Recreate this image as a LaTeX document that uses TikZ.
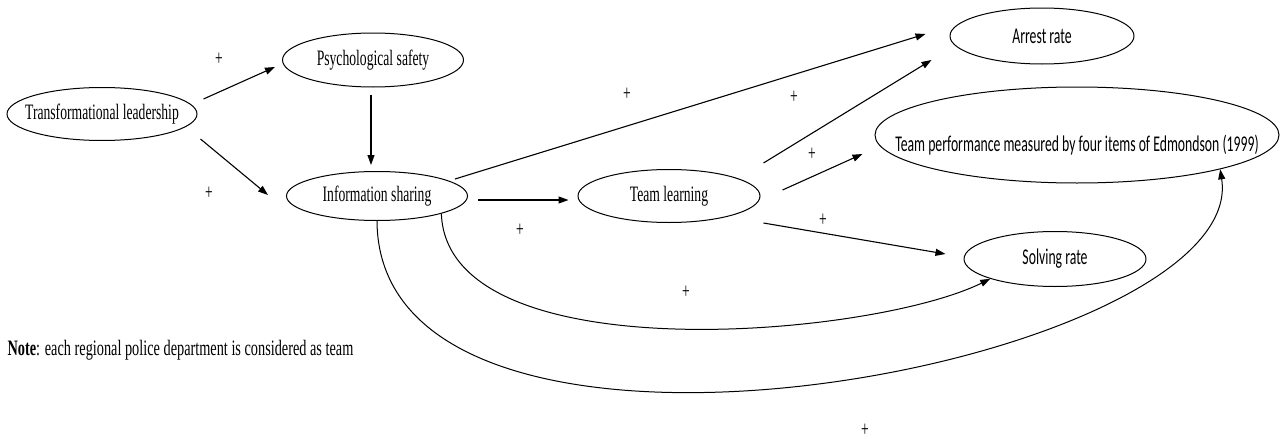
\documentclass[tikz,border=0pt]{standalone}
\usepackage{fontspec}
\setmainfont{Liberation Serif}[FakeStretch=0.62]
\newfontfamily\calfont{Carlito}[FakeStretch=0.61]
\usetikzlibrary{arrows.meta,shapes.geometric}

\tikzset{
  var/.style={draw, ellipse, inner sep=0pt, line width=1pt},
  outcome/.style={var, font=\calfont\fontsize{22.5}{26}\selectfont},
  plus/.style={inner sep=0pt},
}
\newcommand{\vlabel}[1]{\makebox[0pt]{#1}}

\begin{document}
\begin{tikzpicture}[x=1pt, y=-1pt, line width=1.1pt, >={Triangle[length=10pt,width=7pt]},
    font=\fontsize{22}{26}\selectfont]
    \useasboundingbox (0,0) rectangle (1285,439);
    % Nodes
    \node[var, minimum width=190pt, minimum height=53pt] (TL) at (102,114) {\vlabel{Transformational leadership}};
    \node[var, minimum width=181pt, minimum height=54pt] (PS) at (373,60) {\vlabel{Psychological safety}};
    \node[var, minimum width=181pt, minimum height=49pt] (IS) at (377,196) {\vlabel{Information sharing}};
    \node[var, minimum width=182pt, minimum height=53pt] (TLn) at (669,196) {\vlabel{Team learning}};
    \node[outcome, minimum width=184pt, minimum height=56pt] (AR) at (1042,36) {\vlabel{Arrest rate}};
    \node[outcome, minimum width=404pt, minimum height=96pt] (TP) at (1077,135) {\vlabel{\raisebox{-10pt}[\height][\depth]{Team performance measured by four items of Edmondson (1999)}}};
    \node[outcome, minimum width=182pt, minimum height=55pt] (SR) at (1055,259) {\vlabel{Solving rate}};
    \node[anchor=west, inner sep=0pt, font=\fontsize{22}{26}\selectfont\addfontfeature{FakeStretch=0.65}] (note) at (7,350) {\textbf{Note}: each regional police department is considered as team};

    % Signs
    \node[plus] (p1) at (219,59) {+};
    \node[plus] (p2) at (209,193) {+};
    \node[plus] (p3) at (627,94) {+};
    \node[plus] (p4) at (794,97) {+};
    \node[plus] (p5) at (812,154) {+};
    \node[plus] (p6) at (823,220) {+};
    \node[plus] (p7) at (520,230) {+};
    \node[plus] (p8) at (686,292) {+};
    \node[plus] (p9) at (865,430) {+};

    % Paths
    \draw[->] ([shift={(6,-15)}]TL.east) -- ([shift={(-7,7)}]PS.west);
    \draw[->] ([shift={(3,25)}]TL.east) -- ([shift={(-18,-1)}]IS.west);
    \draw[->] ([shift={(-2,7)}]PS.south) -- ([shift={(-6,-6)}]IS.north);
    \draw[->] ([shift={(10,4)}]IS.east) -- ([shift={(-9,4)}]TLn.west);
    \draw[->] ([shift={(-13,-17)}]IS.east) -- ([shift={(-24,-2)}]AR.west);
    \draw[->] ([shift={(3,-33)}]TLn.east) -- ([shift={(-18,24)}]AR.west);
    \draw[->] ([shift={(22,-6)}]TLn.east) -- ([shift={(-12,19)}]TP.west);
    \draw[->] ([shift={(3,27)}]TLn.east) -- ([shift={(-18,-5)}]SR.west);
    \draw[->, line width=1pt] (IS.south east) .. controls +(6,160) and +(-120,59) .. (SR.south west);
    \draw[->, line width=1pt] (IS.south) .. controls +(2,308) and +(30,195) .. (TP.south east);
\end{tikzpicture}
\end{document}
